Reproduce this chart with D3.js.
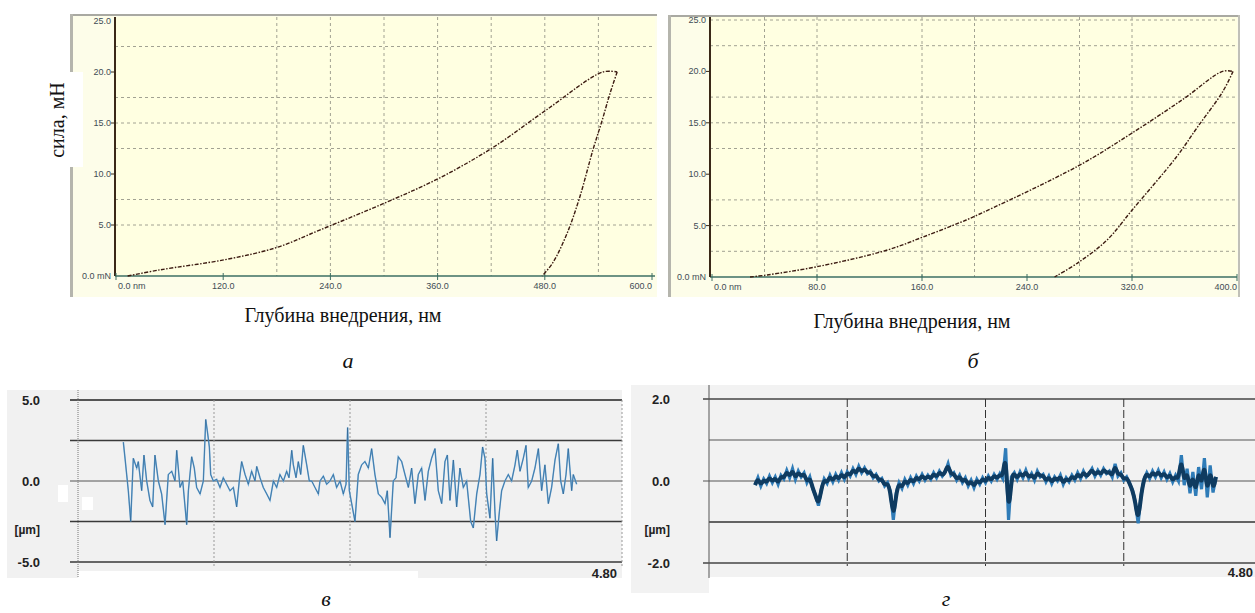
<!DOCTYPE html>
<html><head><meta charset="utf-8">
<script src="https://cdn.jsdelivr.net/npm/d3@7"></script>
<style>body{margin:0;background:#fff;overflow:hidden}</style></head>
<body>
<svg id="c" width="1255" height="613"></svg>
<script>
// ---------- DATA ----------
// Panel а: load-depth (nm) / force (mN)
const aLoadDepth   = [13, 49, 122, 180, 228, 302, 362, 422, 482, 545, 561];
const aLoadForce   = [0, 0.6, 1.6, 2.8, 4.5, 7.2, 9.6, 12.6, 16.3, 20.0, 20.0];
const aUnloadDepth = [561, 553, 544, 534, 519, 505, 489, 477];
const aUnloadForce = [20, 17.9, 15.2, 12.4, 7.7, 4.2, 1.3, 0];
const aXTicks = [0, 120, 240, 360, 480, 600];
const aXLabels = ["0.0 nm", "120.0", "240.0", "360.0", "480.0", "600.0"];
const aYTicks = [0, 5, 10, 15, 20, 25];
const aYLabels = ["0.0 mN", "5.0", "10.0", "15.0", "20.0", "25.0"];
const aHGrid = [22.5, 17.5, 15, 12.5, 7.5, 5];
const aVGrid = [180, 240, 300, 360, 420, 480, 540];

// Panel б
const bLoadDepth   = [29, 42, 80, 133, 161, 189, 200, 279, 320, 359, 389, 397];
const bLoadForce   = [0, 0.2, 1.0, 2.6, 3.9, 5.3, 5.9, 10.8, 14.0, 17.3, 20.0, 20.0];
const bUnloadDepth = [397, 389, 370, 354, 320, 301, 279, 261];
const bUnloadForce = [20, 18, 14.6, 11.7, 6.5, 3.6, 1.4, 0];
const bXTicks = [0, 80, 160, 240, 320, 400];
const bXLabels = ["0.0 nm", "80.0", "160.0", "240.0", "320.0", "400.0"];
const bYTicks = [0, 5, 10, 15, 20, 25];
const bYLabels = ["0.0 mN", "5.0", "10.0", "15.0", "20.0", "25.0"];
const bHGrid = [25, 22.5, 17.5, 15, 12.5, 7.5, 5, 2.5];
const bVGrid = [40, 80, 160, 200, 280, 320];

// Panel в: profile position (mm) / height (µm)
const vPos = [0.400,0.415,0.444,0.465,0.488,0.518,0.532,0.562,0.582,0.606,0.635,0.659,0.679,0.709,0.738,0.768,0.797,0.827,0.856,0.871,0.900,0.924,0.959,0.974,1.003,1.026,1.047,1.077,1.106,1.127,1.141,1.159,1.171,1.194,1.224,1.253,1.282,1.312,1.341,1.371,1.400,1.423,1.444,1.474,1.503,1.532,1.562,1.577,1.606,1.635,1.665,1.694,1.724,1.753,1.782,1.812,1.841,1.862,1.886,1.900,1.924,1.944,1.965,1.988,2.018,2.041,2.062,2.091,2.121,2.135,2.165,2.194,2.223,2.253,2.282,2.312,2.341,2.365,2.379,2.394,2.415,2.444,2.473,2.503,2.532,2.562,2.591,2.620,2.650,2.679,2.709,2.729,2.753,2.782,2.806,2.826,2.856,2.885,2.915,2.944,2.973,3.003,3.032,3.062,3.091,3.120,3.150,3.179,3.209,3.238,3.259,3.282,3.312,3.341,3.370,3.400,3.429,3.465,3.488,3.518,3.547,3.570,3.591,3.606,3.635,3.659,3.679,3.694,3.718,3.738,3.767,3.797,3.826,3.856,3.876,3.900,3.929,3.953,3.973,4.003,4.032,4.062,4.091,4.120,4.150,4.179,4.209,4.238,4.259,4.282,4.306,4.326,4.356,4.370,4.400];
const vHeight = [2.4,1.4,-0.6,-2.5,1.4,0.8,1.2,-0.6,1.6,0,-1.2,-1.6,1.6,0,-0.8,-2.7,0.4,0.6,0,1.9,-0.4,0,-2.7,-0.6,1.5,0.8,-0.4,-0.8,0,3.8,3.1,2.1,0.4,0,0.1,-0.4,0.2,-0.2,-0.6,-0.4,-1.6,0,1.2,0.4,-0.2,0.6,0,0.9,0.2,-0.4,-0.8,-1.2,0,-0.4,0.4,0,0.6,0.2,1.9,1.0,0.2,1.2,0.4,2.2,1.0,0,0,-0.4,-0.8,0,0.3,-0.2,0,0.4,-0.4,0,-0.8,-0.2,3.3,-0.6,-1.4,-2.5,0.4,1.0,1.2,0.8,2.0,0.4,-0.8,-1.0,-1.4,-0.6,-3.5,0,0.2,1.5,1.2,0.4,-0.4,0.8,-1.4,0.4,0.8,-1.2,0.6,1.4,2.0,-0.6,-1.4,1.2,1.6,-1.2,1.3,-1.6,0.8,-0.4,0,-2.5,-2.9,-0.8,0.4,2.1,1.4,-0.8,-2.3,1.4,-1.9,-3.7,-1.9,-0.6,0,0.4,0,1.0,1.9,0.6,1.4,2.2,-0.4,0,0.8,2.0,-0.6,1.0,-1.4,-0.4,1.3,2.3,0,-0.8,0.4,2.0,-0.6,0.4,-0.2];
const vYTicks = [5, 2.5, 0, -2.5, -5];
const vXGrid = [1.2, 2.4, 3.6, 4.8];

// Panel г: profile sampled every 0.025 mm from 0.40 mm (µm)
const gStart = 0.40, gStep = 0.025;
const gHeight = [-0.10,0.08,-0.12,0.05,-0.06,0.12,-0.04,0.10,-0.08,0.14,
 0.05,0.26,0.08,0.30,0.04,0.24,0.10,0.20,-0.04,0.10,
 -0.18,-0.35,-0.60,-0.20,0.05,-0.06,0.14,-0.02,0.16,0.02,
 0.20,0.04,0.22,0.12,0.30,0.16,0.36,0.20,0.32,0.18,
 0.24,0.08,0.16,0.00,0.06,-0.12,-0.04,-0.26,-0.95,-0.30,
 -0.04,-0.18,0.04,-0.10,0.08,-0.06,0.12,0.00,0.16,0.02,
 0.14,0.04,0.20,0.08,0.24,0.12,0.22,0.42,0.14,0.20,
 0.02,0.14,-0.04,0.08,-0.12,0.02,-0.16,0.04,-0.08,0.08,
 -0.04,0.12,0.00,0.16,0.04,0.18,0.06,0.80,-0.95,0.10,
 0.20,0.04,0.22,0.08,0.26,0.06,0.18,0.02,0.24,0.10,
 0.16,-0.02,0.12,-0.06,0.10,0.00,0.14,-0.08,0.08,-0.02,
 0.14,0.02,0.20,0.06,0.24,0.10,0.18,0.30,0.12,0.26,
 0.14,0.30,0.18,0.24,0.10,0.42,0.12,0.20,0.02,0.10,
 -0.06,-0.22,-0.50,-1.03,-0.35,0.04,0.20,0.06,0.24,0.10,
 0.26,0.08,0.22,0.04,0.18,-0.02,0.14,0.00,0.63,-0.10,
 0.30,-0.30,0.22,-0.36,0.34,-0.20,0.56,-0.40,0.38,-0.28,0.10];
const gYTicks = [2, 1, 0, -1, -2];
const gXGrid = [1.2, 2.4, 3.6];

// ---------- DRAW ----------
const svg = d3.select("#c");
const serif = "'Liberation Serif','Times New Roman',serif";
const sans = "'Liberation Sans',Arial,sans-serif";

function topPanel(o) {
  const g = svg.append("g");
  const x = d3.scaleLinear().domain(o.xDomain).range(o.xRange);
  const y = d3.scaleLinear().domain([0, 25]).range(o.yRange);
  g.append("rect").attr("x", o.fx0).attr("y", o.fy0).attr("width", o.fx1 - o.fx0).attr("height", o.fy1 - o.fy0).attr("fill", "#fdfde9");
  g.append("line").attr("x1", o.fx0).attr("x2", o.fx1).attr("y1", o.fy0 + 1).attr("y2", o.fy0 + 1).attr("stroke", "#a9a9a2").attr("stroke-width", 2);
  g.append("line").attr("x1", o.fx0 + 1.5).attr("x2", o.fx0 + 1.5).attr("y1", o.fy0).attr("y2", o.fy1).attr("stroke", "#b5b5ad").attr("stroke-width", 3);
  if (o.rightBorder) g.append("line").attr("x1", o.fx1 - 1).attr("x2", o.fx1 - 1).attr("y1", o.fy0).attr("y2", o.fy1).attr("stroke", "#c0c0b8").attr("stroke-width", 2);
  g.append("rect").attr("x", o.left).attr("y", o.top).attr("width", o.right - o.left).attr("height", o.bottom - o.top).attr("fill", "#ffffe1");
  g.selectAll(".hg").data(o.hGrid).join("line").attr("x1", o.left).attr("x2", o.right)
    .attr("y1", d => y(d)).attr("y2", d => y(d)).attr("stroke", "#a2a292").attr("stroke-dasharray", "3,3");
  g.selectAll(".vg").data(o.vGrid).join("line").attr("y1", o.top).attr("y2", o.bottom)
    .attr("x1", d => x(d)).attr("x2", d => x(d)).attr("stroke", "#a2a292").attr("stroke-dasharray", "3,3");
  g.append("line").attr("x1", o.left).attr("x2", o.right).attr("y1", o.bottom).attr("y2", o.bottom).attr("stroke", "#3d6f63").attr("stroke-width", 1.6);
  g.append("line").attr("x1", o.left).attr("x2", o.left).attr("y1", o.top).attr("y2", o.bottom).attr("stroke", "#3a2818").attr("stroke-width", 2);
  g.selectAll(".xt").data(o.xTicks).join("line").attr("x1", d => x(d)).attr("x2", d => x(d))
    .attr("y1", o.bottom - 3).attr("y2", o.bottom + 4).attr("stroke", "#3d6f63");
  g.selectAll(".yt").data(o.yTicks.slice(1, 5)).join("line").attr("x1", o.left - 4).attr("x2", o.left)
    .attr("y1", d => y(d)).attr("y2", d => y(d)).attr("stroke", "#3a2818");
  g.selectAll(".xl").data(o.xTicks).join("text")
    .attr("x", (d, i) => i === 0 ? x(d) + 2 : x(d))
    .attr("y", o.bottom + 13)
    .attr("text-anchor", (d, i) => i === 0 ? "start" : (i === o.xTicks.length - 1 ? "end" : "middle"))
    .attr("font-family", sans).attr("font-size", 9).attr("fill", "#3f4c55").text((d, i) => o.xLabels[i]);
  g.selectAll(".yl").data(o.yTicks).join("text").attr("x", o.left - 4).attr("y", d => y(d) + 3)
    .attr("text-anchor", "end").attr("font-family", sans).attr("font-size", 9).attr("fill", "#3f4c55")
    .text((d, i) => o.yLabels[i]);
  const line = d3.line().x(d => x(d[0])).y(d => y(d[1])).curve(d3.curveCatmullRom);
  const load = d3.zip(o.loadD, o.loadF), unload = d3.zip(o.unD, o.unF);
  [load, unload].forEach(dat => {
    g.append("path").attr("d", line(dat)).attr("fill", "none").attr("stroke", "#3d1c12")
      .attr("stroke-width", 1.4).attr("stroke-dasharray", "4,1.5,1.5,1.5");
  });
}

topPanel({ xDomain: [0, 600], xRange: [116, 652], yRange: [276, 21],
  fx0: 70, fx1: 657, fy0: 14, fy1: 297, left: 115, right: 655, top: 17, bottom: 276,
  hGrid: aHGrid, vGrid: aVGrid, xTicks: aXTicks, xLabels: aXLabels, yTicks: aYTicks, yLabels: aYLabels,
  loadD: aLoadDepth, loadF: aLoadForce, unD: aUnloadDepth, unF: aUnloadForce });
topPanel({ xDomain: [0, 400], xRange: [712, 1237], yRange: [277, 20],
  fx0: 668, fx1: 1240, fy0: 15, fy1: 297, left: 710, right: 1237, top: 17, bottom: 277, rightBorder: true,
  hGrid: bHGrid, vGrid: bVGrid, xTicks: bXTicks, xLabels: bXLabels, yTicks: bYTicks, yLabels: bYLabels,
  loadD: bLoadDepth, loadF: bLoadForce, unD: bUnloadDepth, unF: bUnloadForce });

svg.append("rect").attr("x", 70).attr("y", 72).attr("width", 13).attr("height", 95).attr("fill", "#fff");
svg.append("text").attr("transform", "translate(64,120) rotate(-90)").attr("text-anchor", "middle")
  .attr("font-family", serif).attr("font-size", 20).attr("fill", "#111").text("сила, мН");
svg.append("text").attr("x", 343).attr("y", 322).attr("text-anchor", "middle").attr("font-family", serif)
  .attr("font-size", 20).attr("fill", "#111").text("Глубина внедрения, нм");
svg.append("text").attr("x", 912).attr("y", 328).attr("text-anchor", "middle").attr("font-family", serif)
  .attr("font-size", 20).attr("fill", "#111").text("Глубина внедрения, нм");

// ---------- Panel в ----------
(function () {
  const g = svg.append("g");
  const x = d3.scaleLinear().domain([0, 4.8]).range([78, 622]);
  const y = d3.scaleLinear().domain([-5, 5]).range([562, 400]);
  g.append("rect").attr("x", 7).attr("y", 390).attr("width", 615).attr("height", 188).attr("fill", "#f1f1f1");
  g.append("rect").attr("x", 78).attr("y", 571).attr("width", 340).attr("height", 12).attr("fill", "#fff");
  g.append("rect").attr("x", 58).attr("y", 485).attr("width", 10).attr("height", 17).attr("fill", "#fff");
  g.append("rect").attr("x", 82).attr("y", 497).attr("width", 11).attr("height", 13).attr("fill", "#fff");
  const widths = [2, 1.5, 1, 1.5, 2], cols = ["#555", "#3a3a3a", "#555", "#3a3a3a", "#666"];
  g.selectAll(".h").data(vYTicks).join("line").attr("x1", 70).attr("x2", 622)
    .attr("y1", d => y(d)).attr("y2", d => y(d)).attr("stroke", (d, i) => cols[i]).attr("stroke-width", (d, i) => widths[i]);
  g.append("line").attr("x1", 78).attr("x2", 78).attr("y1", 390).attr("y2", 578).attr("stroke", "#777").attr("stroke-dasharray", "1,1");
  g.selectAll(".v").data(vXGrid).join("line").attr("x1", d => x(d)).attr("x2", d => x(d)).attr("y1", 400).attr("y2", 566)
    .attr("stroke", "#999").attr("stroke-dasharray", "2,2");
  const line = d3.line().x(d => x(d[0])).y(d => y(d[1]));
  const dat = d3.zip(vPos, vHeight);
  g.append("path").attr("d", line(dat)).attr("fill", "none").attr("stroke", "#6aa8d8").attr("stroke-width", 1.5);
  g.append("path").attr("d", line(dat)).attr("fill", "none").attr("stroke", "#1d4f7c").attr("stroke-width", 0.7).attr("opacity", 0.7);
  const labs = ["5.0", "", "0.0", "", "-5.0"];
  g.selectAll(".yl").data(vYTicks).join("text").attr("x", 40).attr("y", d => y(d) + 5).attr("text-anchor", "end")
    .attr("font-family", sans).attr("font-weight", "bold").attr("font-size", 13).attr("fill", "#222").text((d, i) => labs[i]);
  g.append("text").attr("x", 40).attr("y", 534).attr("text-anchor", "end").attr("font-family", sans)
    .attr("font-weight", "bold").attr("font-size", 12).attr("fill", "#222").text("[µm]");
  g.append("text").attr("x", 617).attr("y", 578).attr("text-anchor", "end").attr("font-family", sans)
    .attr("font-weight", "bold").attr("font-size", 13).attr("fill", "#222").text("4.80");
})();

// ---------- Panel г ----------
(function () {
  const g = svg.append("g");
  const x = d3.scaleLinear().domain([0, 4.8]).range([709, 1262]);
  const y = d3.scaleLinear().domain([-2, 2]).range([563, 399]);
  g.append("rect").attr("x", 631).attr("y", 385).attr("width", 624).attr("height", 192).attr("fill", "#f2f2f2");
  g.append("rect").attr("x", 631).attr("y", 385).attr("width", 78).attr("height", 208).attr("fill", "#f2f2f2");
  const widths = [1.6, 1, 1, 1.5, 1.6], cols = ["#444", "#555", "#555", "#333", "#444"];
  g.selectAll(".h").data(gYTicks).join("line").attr("x1", d => (d % 2 === 0 ? 703 : 709)).attr("x2", 1255)
    .attr("y1", d => y(d)).attr("y2", d => y(d)).attr("stroke", (d, i) => cols[i]).attr("stroke-width", (d, i) => widths[i]);
  g.append("line").attr("x1", 709).attr("x2", 709).attr("y1", 385).attr("y2", 578).attr("stroke", "#555");
  g.selectAll(".v").data(gXGrid).join("line").attr("x1", d => x(d)).attr("x2", d => x(d)).attr("y1", 399).attr("y2", 566)
    .attr("stroke", "#333").attr("stroke-dasharray", "8,3");
  const dat = gHeight.map((v, i) => [gStart + i * gStep, v]);
  const line = d3.line().x(d => x(d[0])).y(d => y(d[1]));
  g.append("path").attr("d", line(dat)).attr("fill", "none").attr("stroke", "#2f7cb8").attr("stroke-width", 3.2)
    .attr("stroke-linejoin", "miter");
  g.append("path").attr("d", line.curve(d3.curveBasis)(dat)).attr("fill", "none").attr("stroke", "#0f3b60").attr("stroke-width", 4);
  const labs = ["2.0", "", "0.0", "", "-2.0"];
  g.selectAll(".yl").data(gYTicks).join("text").attr("x", 670).attr("y", d => y(d) + 5).attr("text-anchor", "end")
    .attr("font-family", sans).attr("font-weight", "bold").attr("font-size", 13).attr("fill", "#222").text((d, i) => labs[i]);
  g.append("text").attr("x", 670).attr("y", 534).attr("text-anchor", "end").attr("font-family", sans)
    .attr("font-weight", "bold").attr("font-size", 12).attr("fill", "#222").text("[µm]");
  g.append("text").attr("x", 1253).attr("y", 577).attr("text-anchor", "end").attr("font-family", sans)
    .attr("font-weight", "bold").attr("font-size", 13).attr("fill", "#222").text("4.80");
})();

const letters = [["а", 348, 368], ["б", 973, 368], ["в", 326, 606], ["г", 946, 606]];
svg.selectAll(".let").data(letters).join("text").attr("x", d => d[1]).attr("y", d => d[2]).attr("text-anchor", "middle")
  .attr("font-family", serif).attr("font-style", "italic").attr("font-size", 22).attr("fill", "#111").text(d => d[0]);
</script>
</body></html>
